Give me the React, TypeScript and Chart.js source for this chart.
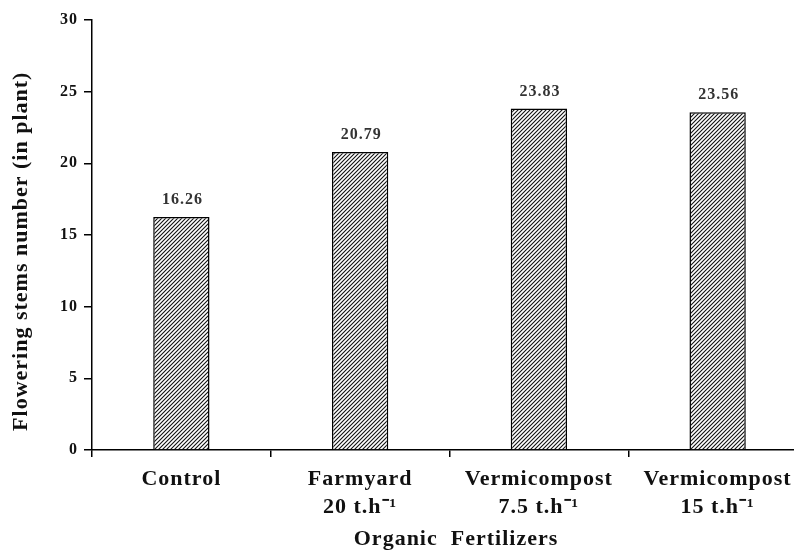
import React, { useEffect, useRef } from 'react';
import { Chart, registerables } from 'chart.js';

Chart.register(...registerables);

const categories: string[][] = [
  ['Control'],
  ['Farmyard', '20 t.h⁻¹'],
  ['Vermicompost', '7.5 t.h⁻¹'],
  ['Vermicompost', '15 t.h⁻¹'],
];
const values: number[] = [16.26, 20.79, 23.83, 23.56];
const yTicks: number[] = [0, 5, 10, 15, 20, 25, 30];
const yTitle = 'Flowering stems number (in plant)     ';
const xTitle = '  Organic  Fertilizers';

const FAMILY = '"Liberation Serif", "Times New Roman", serif';

const spacingPlugin = {
  id: 'spacing',
  beforeUpdate(chart: any) {
    chart.ctx.letterSpacing = '1px';
  },
  beforeDraw(chart: any) {
    chart.ctx.letterSpacing = '1px';
  },
};

const valueLabels = {
  id: 'valueLabels',
  afterDatasetsDraw(chart: any) {
    const ctx = chart.ctx;
    const meta = chart.getDatasetMeta(0);
    ctx.save();
    ctx.font = `bold 16px ${FAMILY}`;
    ctx.letterSpacing = '1px';
    ctx.fillStyle = '#333333';
    ctx.textAlign = 'center';
    ctx.textBaseline = 'bottom';
    meta.data.forEach((bar: any, i: number) => {
      ctx.fillText(values[i].toFixed(2), bar.x + 1, bar.y - 9);
    });
    ctx.restore();
  },
};

export default function App() {
  const ref = useRef<HTMLCanvasElement | null>(null);

  useEffect(() => {
    const canvas = ref.current;
    if (!canvas) return;
    const ctx = canvas.getContext('2d');
    if (!ctx) return;

    const tile = document.createElement('canvas');
    tile.width = 4;
    tile.height = 4;
    const t = tile.getContext('2d')!;
    t.fillStyle = '#ffffff';
    t.fillRect(0, 0, 4, 4);
    t.strokeStyle = '#111111';
    t.lineWidth = 1.1;
    t.beginPath();
    t.moveTo(-1, 5);
    t.lineTo(5, -1);
    t.moveTo(-1, 1);
    t.lineTo(1, -1);
    t.moveTo(3, 5);
    t.lineTo(5, 3);
    t.stroke();
    const pattern = ctx.createPattern(tile, 'repeat');

    const chart = new Chart(ctx, {
      type: 'bar',
      data: {
        labels: categories,
        datasets: [
          {
            data: values,
            backgroundColor: pattern as any,
            borderColor: '#000000',
            borderWidth: 1.5,
            barPercentage: 0.315,
            categoryPercentage: 1,
          },
        ],
      },
      options: {
        animation: false,
        responsive: false,
        devicePixelRatio: 1,
        layout: { padding: { top: 20, right: 1, bottom: 0, left: 0 } },
        plugins: {
          legend: { display: false },
          tooltip: { enabled: false },
        },
        scales: {
          x: {
            grid: {
              display: true,
              drawOnChartArea: false,
              drawTicks: true,
              tickLength: 7,
              color: '#000000',
              lineWidth: 1.5,
              offset: true,
            },
            border: { display: true, color: '#000000', width: 1.5 },
            ticks: {
              font: { family: FAMILY, size: 22, weight: 'bold', lineHeight: 1.27 },
              color: '#111111',
              padding: 8,
              maxRotation: 0,
              autoSkip: false,
            },
            title: {
              display: true,
              text: xTitle,
              font: { family: FAMILY, size: 22, weight: 'bold', lineHeight: 1.2 },
              color: '#111111',
              padding: { top: 0, bottom: 0 },
            },
            afterFit(s: any) {
              s.height = 103;
            },
          },
          y: {
            min: 0,
            max: 30,
            afterBuildTicks(s: any) {
              s.ticks = yTicks.map((v) => ({ value: v }));
            },
            ticks: {
              font: { family: FAMILY, size: 16, weight: 'bold' },
              color: '#111111',
              padding: 6,
            },
            grid: {
              display: true,
              drawOnChartArea: false,
              drawTicks: true,
              tickLength: 8,
              color: '#000000',
              lineWidth: 1.5,
            },
            border: { display: true, color: '#000000', width: 1.5 },
            title: {
              display: true,
              text: yTitle,
              font: { family: FAMILY, size: 22, weight: 'bold', lineHeight: 1.2 },
              color: '#111111',
              padding: { top: 8, bottom: 0 },
            },
            afterFit(s: any) {
              s.width = 92;
            },
          },
        },
      },
      plugins: [spacingPlugin, valueLabels],
    });

    return () => chart.destroy();
  }, []);

  return (
    <div
      style={{
        position: 'fixed',
        left: 0,
        top: 0,
        width: 794,
        height: 553,
        overflow: 'hidden',
        background: '#ffffff',
      }}
    >
      <canvas ref={ref} width={808} height={553} style={{ display: 'block' }} />
    </div>
  );
}
